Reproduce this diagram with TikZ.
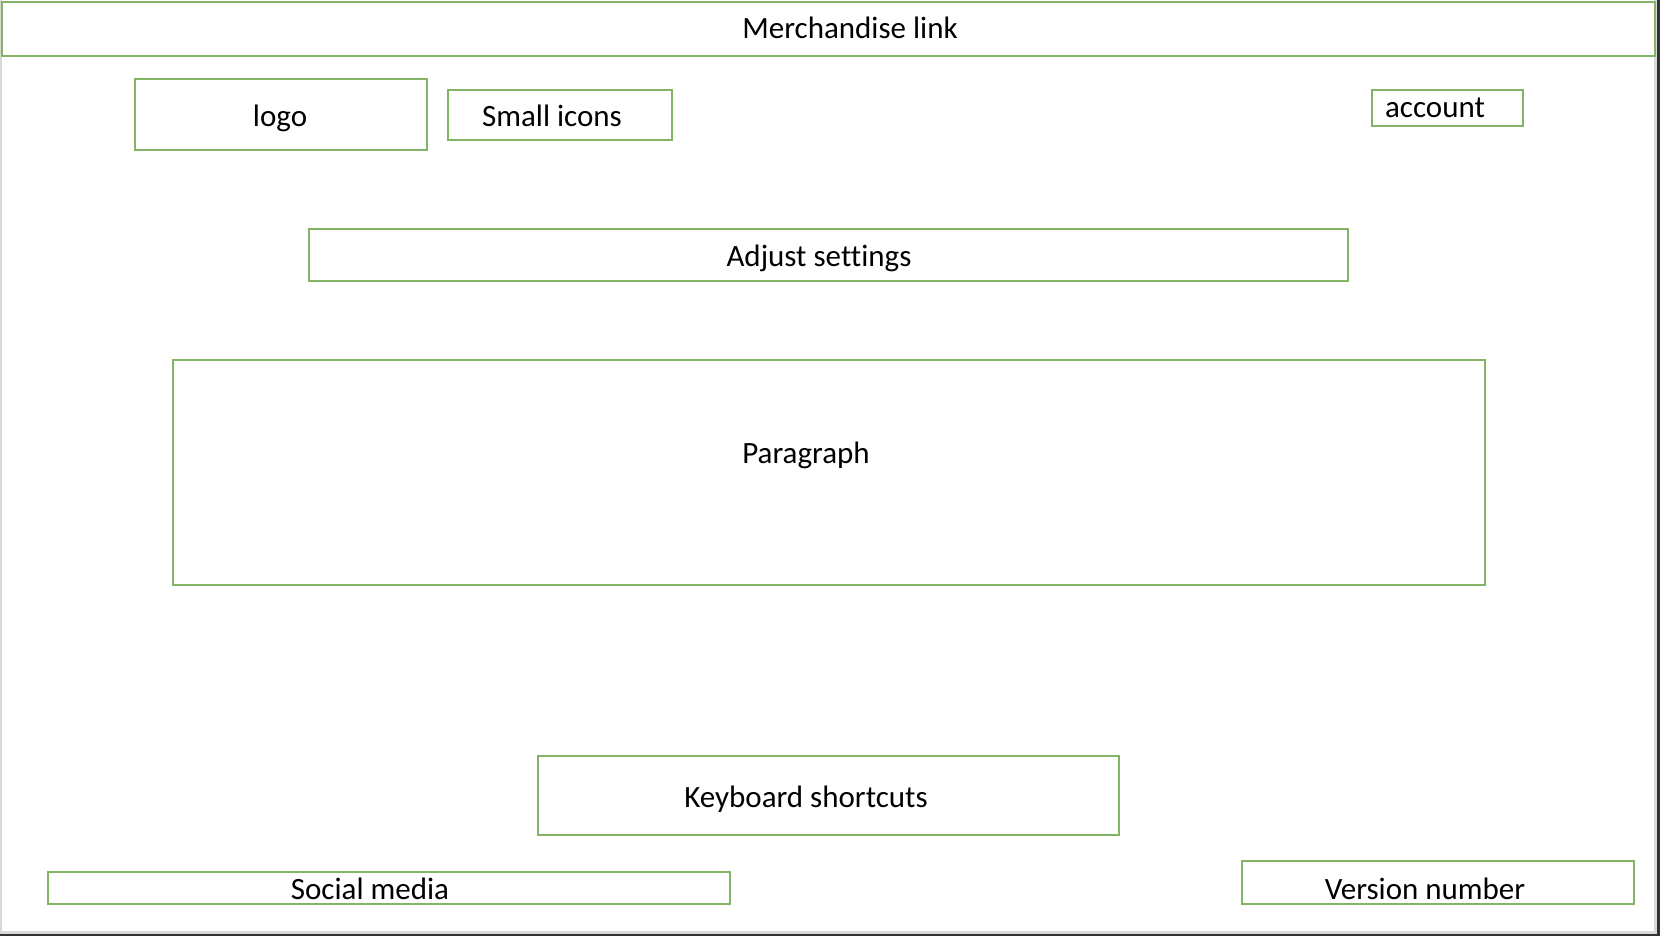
\documentclass[tikz,border=0pt]{standalone}
\usepackage{fontspec}
\setmainfont{Carlito}[Ligatures=NoCommon]
\usetikzlibrary{fit}

\tikzset{
    wbox/.style={draw=wgreen, line width=2pt, inner sep=0pt, outer sep=0pt},
    wtext/.style={anchor=base, inner sep=0pt, font=\fontsize{31}{37}\selectfont}
}
\definecolor{wgreen}{HTML}{82B366}
\definecolor{edgegray}{HTML}{D9D9D9}
\definecolor{edgedark}{HTML}{333333}

\begin{document}
\begin{tikzpicture}[x=1pt,y=-1pt]
        % Page and its edges
        \fill[white] (0,0) rectangle (1660,936);
        \useasboundingbox (0,0) rectangle (1660,936);
        \fill[edgegray] (0,0) rectangle (2,934);
        \fill[edgegray] (1654,0) rectangle (1657,934);
        \fill[edgegray] (0,931) rectangle (1657,934);
        \fill[edgedark] (1657,0) rectangle (1660,936);
        \fill[edgedark] (0,934) rectangle (1660,936);

        % Boxes of the layout
        \node[wbox, fit={(2,2) (1655,56)}] (merch) {};
        \node[wbox, fit={(135,79) (427,150)}] (logo) {};
        \node[wbox, fit={(448,90) (672,140)}] (icons) {};
        \node[wbox, fit={(1372,90) (1523,126)}] (account) {};
        \node[wbox, fit={(309,229) (1348,281)}] (settings) {};
        \node[wbox, fit={(173,360) (1485,585)}] (para) {};
        \node[wbox, fit={(538,756) (1119,835)}] (keys) {};
        \node[wbox, fit={(48,872) (730,904)}] (social) {};
        \node[wbox, fit={(1242,861) (1634,904)}] (version) {};

        % Labels
        \node[wtext] (merchtext) at (850,39) {Merchandise link};
        \node[wtext] (logotext) at (280,127) {logo};
        \node[wtext] (iconstext) at (552,127) {Small icons};
        \node[wtext] (accounttext) at (1435,118) {account};
        \node[wtext] (settingstext) at (819,266) {Adjust settings};
        \node[wtext] (paratext) at (806,463) {Paragraph};
        \node[wtext] (keystext) at (806,807) {Keyboard shortcuts};
        \node[wtext] (socialtext) at (370,899) {Social media};
        \node[wtext] (versiontext) at (1425,899) {Version number};
        
    \end{tikzpicture}
\end{document}
